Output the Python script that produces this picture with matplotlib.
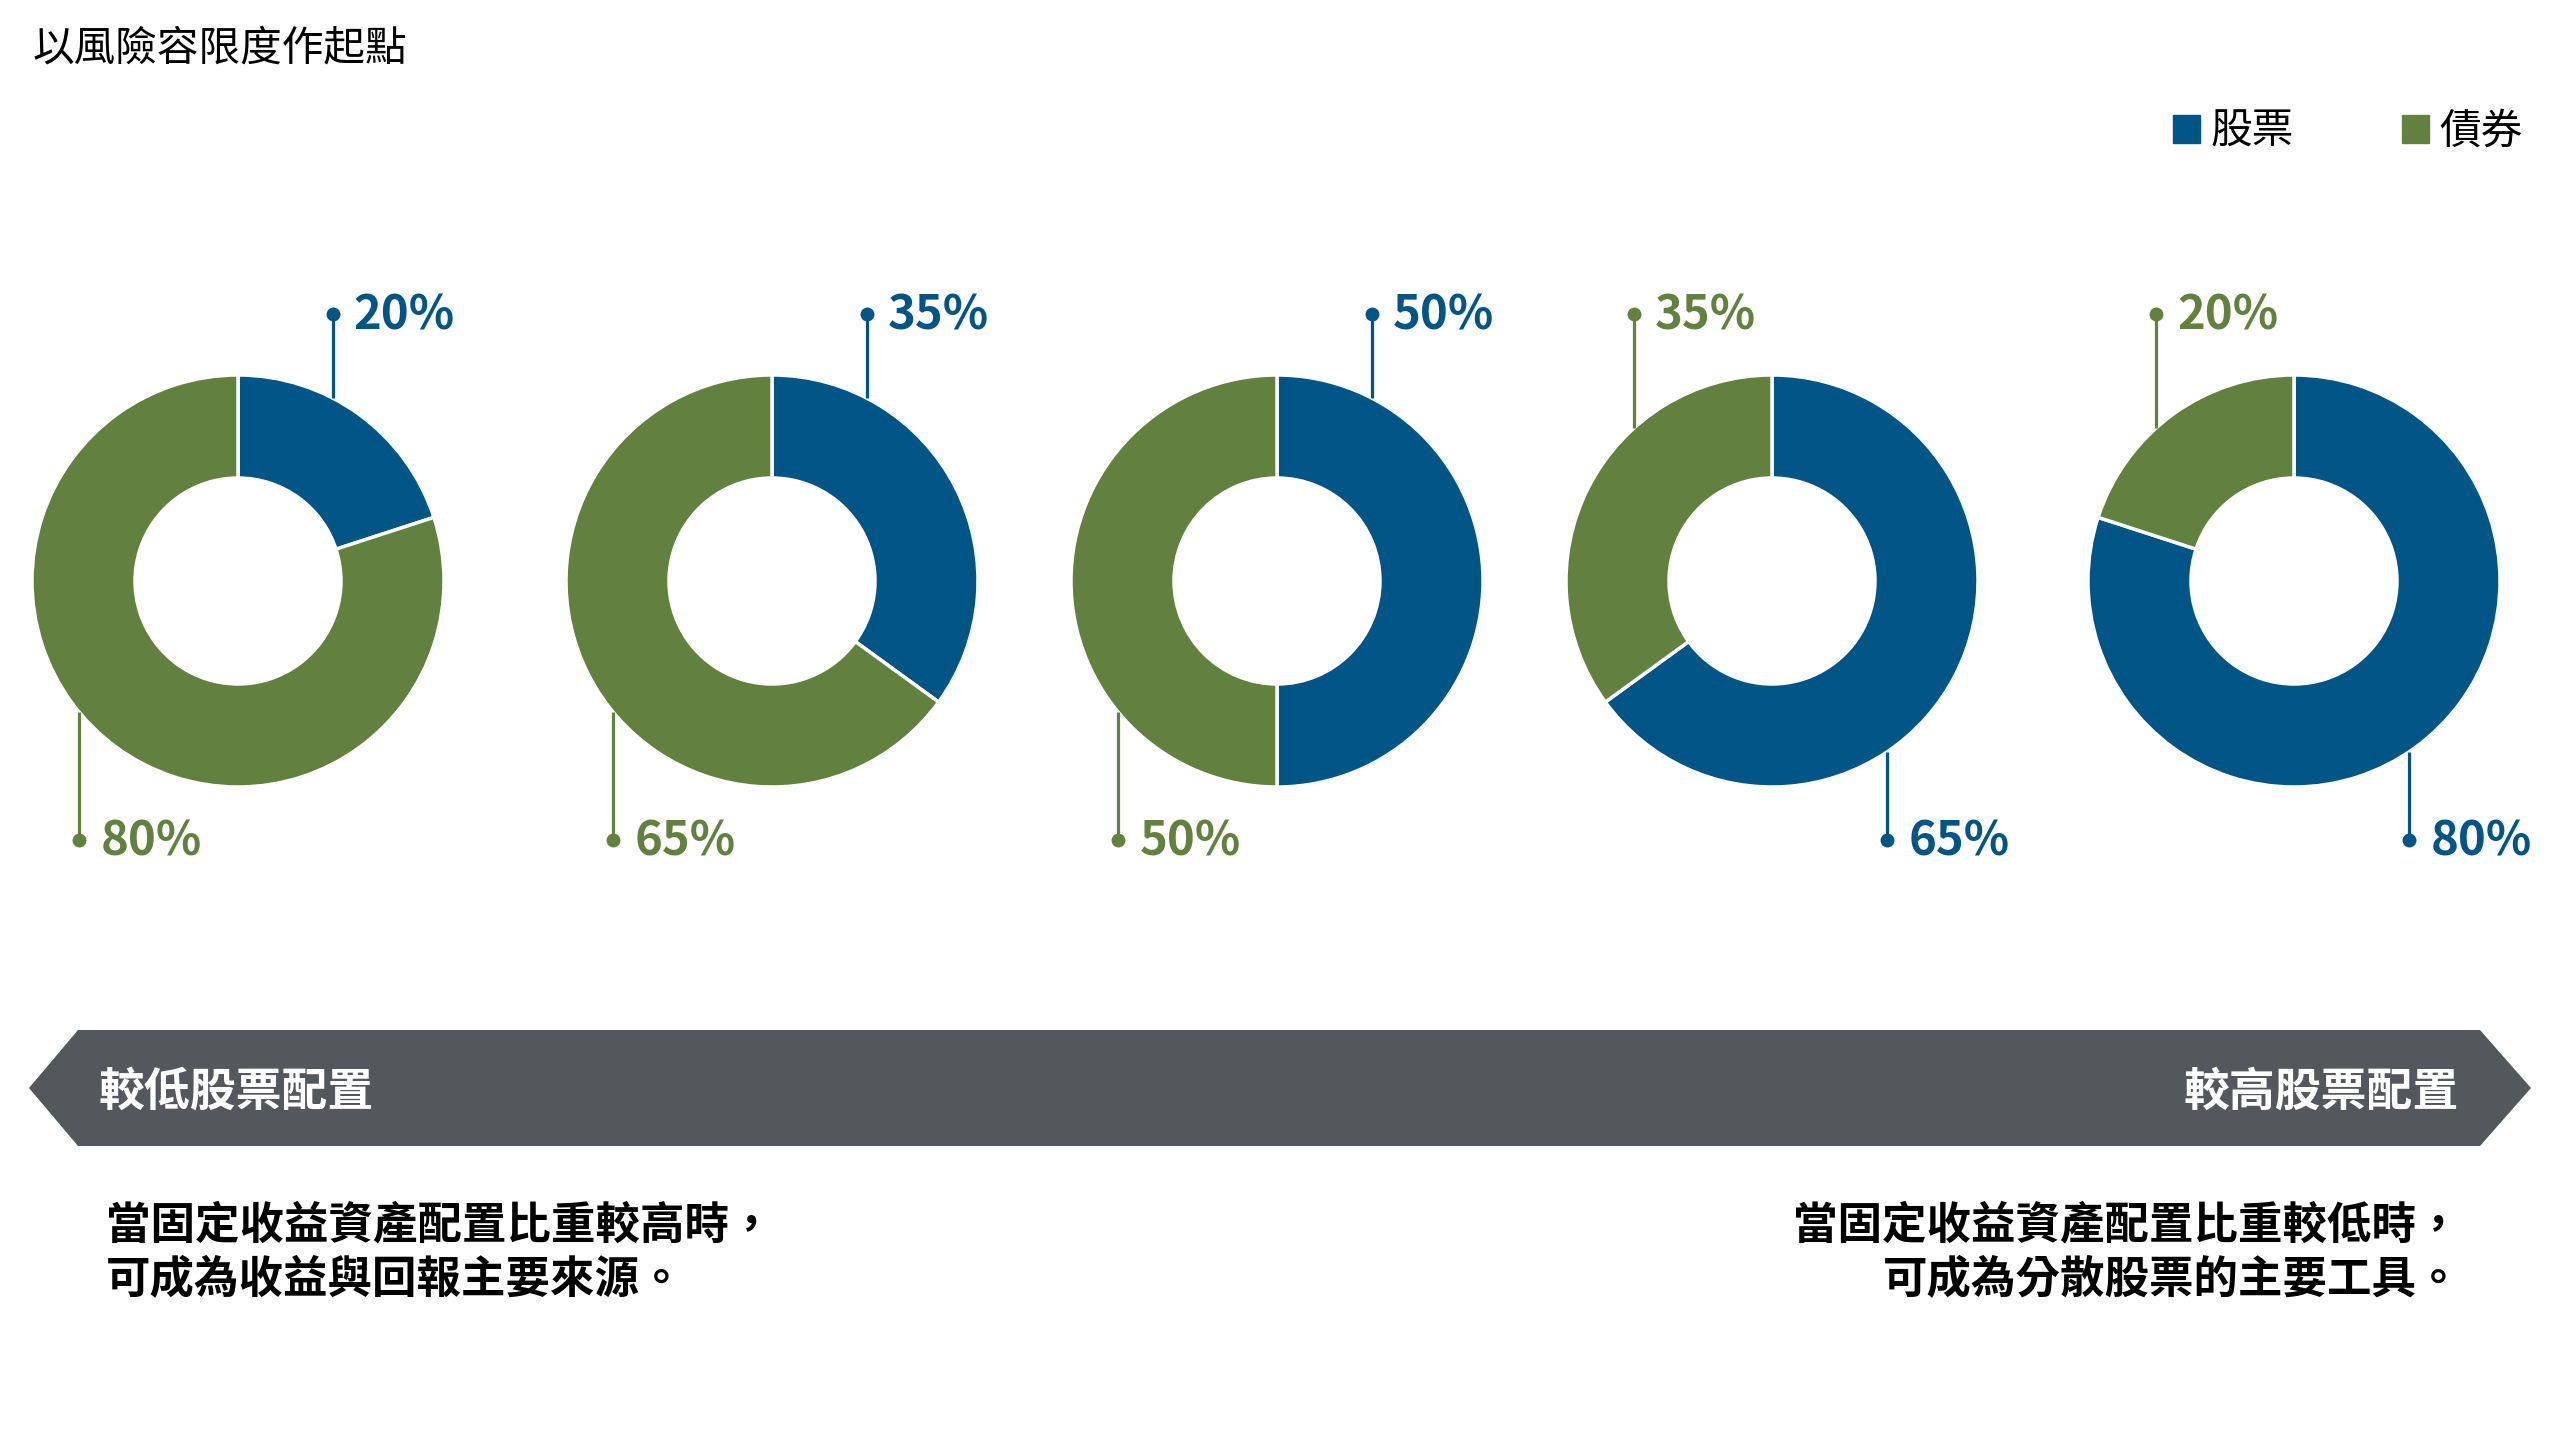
import matplotlib
matplotlib.use('Agg')
import matplotlib.pyplot as plt
from matplotlib.patches import Patch, Polygon
import numpy as np

plt.rcParams['font.family'] = ['Noto Sans CJK TC', 'DejaVu Sans']

# data
stock = [20, 35, 50, 65, 80]
bond = [80, 65, 50, 35, 20]
series_names = ['股票', '債券']
title = '以風險容限度作起點'
low_label = '較低股票配置'
high_label = '較高股票配置'
low_note = '當固定收益資產配置比重較高時，\n可成為收益與回報主要來源。'
high_note = '當固定收益資產配置比重較低時，\n可成為分散股票的主要工具。'

blue = '#005587'
green = '#62813E'
band_color = '#54575C'

W, H = 2560, 1440
fig = plt.figure(figsize=(25.6, 14.4), dpi=100)
ax = fig.add_axes([0, 0, 1, 1])

# layout (pixels from the top-left)
centers_x = [238, 772, 1277, 1772, 2294]
cy = 581
R = 206
top_row = 314
bottom_row = 840


def Y(y):
    return H - y


def callout(cx, dx, y_dot, value, color, upper):
    x = cx + dx * R
    h = np.sqrt(R**2 - (dx * R)**2)
    y_edge = cy - h if upper else cy + h
    ax.plot([x, x], [Y(y_dot), Y(y_edge)], color=color, lw=2.3, solid_capstyle='butt')
    ax.plot(x, Y(y_dot), 'o', color=color, ms=9)
    ax.text(x + 21, Y(y_dot + 2), f'{value}%', color=color, fontsize=34,
            fontweight='bold', ha='left', va='center')


for cx, s, b in zip(centers_x, stock, bond):
    ax.pie([s, b], colors=[blue, green], startangle=90, counterclock=False,
           center=(cx, Y(cy)), radius=R,
           wedgeprops=dict(width=R / 2, edgecolor='white', linewidth=2.5))
    # smaller share labelled above, larger share below
    if s <= 50:
        callout(cx, 0.46, top_row, s, blue, True)
        callout(cx, -0.77, bottom_row, b, green, False)
    else:
        callout(cx, -0.67, top_row, b, green, True)
        callout(cx, 0.56, bottom_row, s, blue, False)

ax.set_xlim(0, W)
ax.set_ylim(0, H)
ax.axis('off')

ax.text(33, Y(49), title, fontsize=30, ha='left', va='center', color='black')

ax.legend(handles=[Patch(color=blue, label=series_names[0]),
                   Patch(color=green, label=series_names[1])],
          ncol=2, loc='center right', bbox_to_anchor=(2523 / W, 1 - 132 / H),
          frameon=False, fontsize=30, handlelength=0.65, handleheight=0.65,
          handletextpad=0.25, columnspacing=2.6, borderpad=0, borderaxespad=0)

# arrow band
band = Polygon([(29, Y(1088)), (78, Y(1030)), (2480, Y(1030)), (2531, Y(1088)),
                (2480, Y(1146)), (78, Y(1146))], closed=True,
               facecolor=band_color, edgecolor='none')
ax.add_patch(band)
ax.text(98, Y(1093), low_label, color='white', fontsize=33, fontweight='bold',
        ha='left', va='center')
ax.text(2459, Y(1093), high_label, color='white', fontsize=33, fontweight='bold',
        ha='right', va='center')

ax.text(106, Y(1253), low_note, fontsize=32, fontweight='heavy', ha='left',
        va='center', linespacing=1.25, color='black')
ax.text(2461, Y(1253), high_note, fontsize=32, fontweight='heavy', ha='right',
        va='center', linespacing=1.25, multialignment='right', color='black')

fig.savefig('out.png', dpi=100)
